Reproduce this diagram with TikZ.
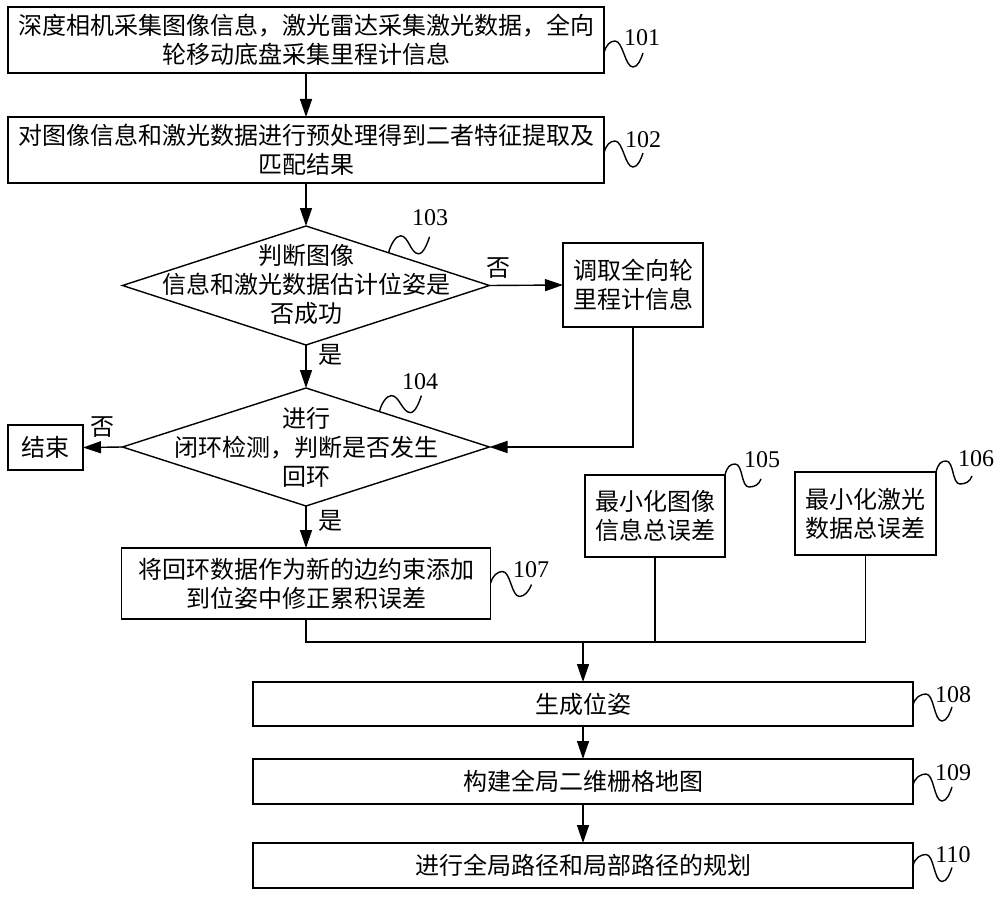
\documentclass[tikz,border=0pt]{standalone}
\usepackage{fontspec}
\newfontfamily\cjk{Noto Sans CJK SC}
\newfontfamily\numf{Liberation Serif}
\usetikzlibrary{arrows.meta,shapes.geometric,calc}
\newcommand\wig[4]{\draw #1 .. controls +(2,-8) and +(-5,0) .. ++(#2) .. controls +(8,0) and +(-8,0) .. ++(#3) .. controls +(5,0) and +(-2,6) .. ++(#4);}
\begin{document}
\begin{tikzpicture}[x=1pt,y=-1pt,
  line width=1.4pt,
  box/.style={draw, rectangle, inner sep=0pt, outer sep=0pt, align=center, font=\cjk\fontsize{24}{29}\selectfont},
  dia/.style={draw, diamond, inner sep=0pt, outer sep=0pt},
  txt/.style={align=center, inner sep=0pt, font=\cjk\fontsize{24}{29}\selectfont},
  lab/.style={inner sep=0pt, font=\numf\fontsize{24}{24}\selectfont},
  arr/.style={-{Triangle[length=18pt,width=12pt]}}]
\useasboundingbox (0,0) rectangle (1000,896);
\fill[white] (0,0) rectangle (1000,896);

\node[box, minimum width=596pt, minimum height=66pt] (b101) at (306,40) {深度相机采集图像信息，激光雷达采集激光数据，全向\\轮移动底盘采集里程计信息};
\node[box, minimum width=596pt, minimum height=66pt] (b102) at (306,150) {对图像信息和激光数据进行预处理得到二者特征提取及\\匹配结果};
\node[dia, minimum width=367pt, minimum height=119pt] (d1) at (306,285.5) {};
\node[txt] (d1t) at (306,284) {判断图像\\信息和激光数据估计位姿是\\否成功};
\node[box, minimum width=140pt, minimum height=84pt] (odo) at (633,285) {调取全向轮\\里程计信息};
\node[dia, minimum width=367pt, minimum height=118pt] (d2) at (306,447) {};
\node[txt] (d2t) at (306,447) {进行\\闭环检测，判断是否发生\\回环};
\node[box, minimum width=75pt, minimum height=45pt] (end) at (45.5,447.5) {结束};
\node[box, minimum width=369pt, minimum height=71pt] (b107) at (306,583.5) {将回环数据作为新的边约束添加\\到位姿中修正累积误差};
\node[box, minimum width=140pt, minimum height=82pt] (b105) at (655,516) {最小化图像\\信息总误差};
\node[box, minimum width=141pt, minimum height=83pt] (b106) at (865.5,513.5) {最小化激光\\数据总误差};
\node[box, minimum width=660pt, minimum height=44pt] (b108) at (583,704) {生成位姿};
\node[box, minimum width=660pt, minimum height=45pt] (b109) at (583,781.5) {构建全局二维栅格地图};
\node[box, minimum width=660pt, minimum height=45pt] (b110) at (583,865.5) {进行全局路径和局部路径的规划};

\coordinate (j) at (583,642);

\draw[arr] (b101.south) -- (b102.north);
\draw[arr] (b102.south) -- (d1.north);
\draw[arr] (d1.east) -- (odo.west);
\draw[arr] (d1.south) -- (d2.north);
\draw[arr] (odo.south) |- (d2.east);
\draw[arr] (d2.west) -- (end.east);
\draw[arr] (d2.south) -- (b107.north);
\draw (b107.south) |- (j);
\draw (b105.south) |- (j);
\draw (b106.south) |- (j);
\draw[arr] (j) -- (b108.north);
\draw[arr] (b108.south) -- (b109.north);
\draw[arr] (b109.south) -- (b110.north);

\node[txt] (n1) at (498,268) {否};
\node[txt] (y1) at (330,355) {是};
\node[txt] (n2) at (102,427) {否};
\node[txt] (y2) at (330,521) {是};

\wig{([yshift=-13pt]b101.east)}{11,-12}{18,26}{10,-14}
\wig{([yshift=-3pt]b102.east)}{11,-12}{18,26}{10,-14}
\wig{($(d1.north)!0.45!(d1.east)$)}{12,-17}{18,18}{11,-17}
\wig{($(d2.north)!0.4!(d2.east)$)}{12,-16}{19,17}{11,-17}
\wig{(b105.north east)}{10,-11}{14,23}{12,-8}
\wig{(b106.north east)}{10,-11}{14,23}{12,-8}
\wig{(b107.east)}{12,-12}{17,25}{12,-12}
\wig{([yshift=-1pt]b108.east)}{13,-11}{16,27}{10,-14}
\wig{([yshift=-3.5pt]b109.east)}{13,-11}{16,27}{10,-14}
\wig{(b110.east)}{13,-11}{16,27}{10,-14}

\node[lab] (l101) at (642,38) {101};
\node[lab] (l102) at (643,140) {102};
\node[lab] (l103) at (430,218) {103};
\node[lab] (l104) at (420,382) {104};
\node[lab] (l105) at (762,460) {105};
\node[lab] (l106) at (976,459) {106};
\node[lab] (l107) at (531,570) {107};
\node[lab] (l108) at (953,695) {108};
\node[lab] (l109) at (953,773) {109};
\node[lab] (l110) at (953,855) {110};
\end{tikzpicture}
\end{document}
